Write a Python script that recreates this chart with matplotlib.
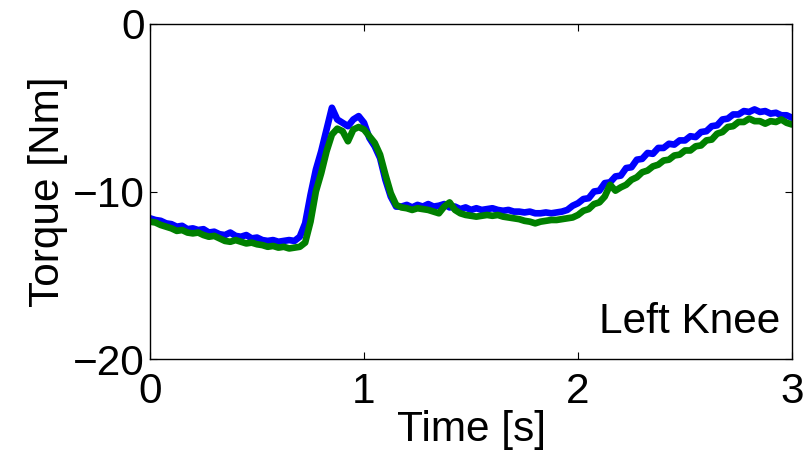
import numpy as np
import matplotlib
matplotlib.use("Agg")
import matplotlib.pyplot as plt

plt.rcParams['font.family'] = ['Liberation Sans', 'DejaVu Sans']

# Sample times [s]
time_s = np.round(np.arange(0, 121) * 0.025, 3)

# Measured torque (blue) [Nm]
torque_blue = [
    -11.6, -11.7, -11.75, -11.9, -11.95, -12.1, -12.05, -12.25, -12.2, -12.3,
    -12.25, -12.45, -12.4, -12.55, -12.6, -12.45, -12.65, -12.7, -12.6, -12.8,
    -12.75, -12.9, -12.95, -12.9, -13.0, -12.95, -12.9, -12.95, -12.7, -11.9,
    -10.2, -8.7, -7.6, -6.3, -5.0, -5.7, -5.9, -6.1, -5.7, -5.5,
    -5.9, -6.8, -7.3, -8.0, -9.3, -10.3, -10.9, -10.9, -10.8, -10.95,
    -10.8, -10.9, -10.75, -10.9, -10.85, -10.75, -10.95, -10.9, -11.05, -10.95,
    -11.1, -11.0, -11.1, -11.05, -11.0, -11.1, -11.15, -11.1, -11.2, -11.2,
    -11.25, -11.2, -11.3, -11.3, -11.25, -11.3, -11.25, -11.2, -11.1, -10.85,
    -10.7, -10.45, -10.4, -10.0, -9.95, -9.5, -9.45, -9.1, -9.05, -8.6,
    -8.55, -8.1, -8.05, -7.7, -7.75, -7.4, -7.4, -7.15, -7.2, -6.95,
    -6.95, -6.7, -6.75, -6.45, -6.4, -6.1, -6.05, -5.7, -5.65, -5.4,
    -5.4, -5.2, -5.25, -5.1, -5.25, -5.2, -5.35, -5.3, -5.45, -5.45,
    -5.6,
]

# Estimated torque (green) [Nm]
torque_green = [
    -11.8, -11.85, -12.0, -12.1, -12.2, -12.35, -12.3, -12.45, -12.5, -12.45,
    -12.6, -12.7, -12.65, -12.8, -12.95, -13.0, -12.9, -13.0, -13.1, -13.05,
    -13.15, -13.2, -13.3, -13.25, -13.35, -13.3, -13.4, -13.35, -13.3, -13.05,
    -11.8, -10.0, -8.9, -7.6, -6.6, -6.25, -6.4, -7.0, -6.3, -6.15,
    -6.3, -6.7, -7.1, -7.8, -9.0, -10.1, -10.8, -10.95, -11.0, -11.1,
    -11.0, -11.05, -11.1, -11.2, -11.3, -10.9, -10.65, -11.1, -11.3, -11.4,
    -11.45, -11.5, -11.45, -11.4, -11.45, -11.4, -11.5, -11.55, -11.6, -11.65,
    -11.75, -11.8, -11.9, -11.8, -11.75, -11.7, -11.7, -11.65, -11.6, -11.55,
    -11.4, -11.15, -11.05, -10.75, -10.65, -10.3, -9.6, -9.95, -9.75, -9.6,
    -9.3, -9.15, -8.85, -8.75, -8.5, -8.4, -8.15, -8.1, -7.85, -7.8,
    -7.55, -7.55, -7.3, -7.25, -6.95, -6.9, -6.55, -6.45, -6.15, -6.1,
    -5.85, -5.85, -5.65, -5.8, -5.8, -5.95, -5.8, -5.85, -5.7, -5.9,
    -6.0,
]

x_ticks = [0, 1, 2, 3]
y_ticks = [-20, -10, 0]

FS = 30.5

fig = plt.figure(figsize=(8.07, 4.57), dpi=100)
ax = fig.add_axes([0.1859, 0.2144, 0.7955, 0.7331])

ax.plot(time_s, torque_blue, color=(0, 0, 1), lw=4.8, solid_joinstyle='round',
        solid_capstyle='round')
ax.plot(time_s, torque_green, color=(0, 0.5, 0), lw=4.8, solid_joinstyle='round',
        solid_capstyle='round')

ax.set_xlim(0, 3)
ax.set_ylim(-20, 0)
ax.set_xticks(x_ticks)
ax.set_yticks(y_ticks)
ax.tick_params(direction='in', top=True, right=True, length=5, width=0.8,
               labelsize=FS)
ax.tick_params(axis='x', pad=9)
ax.tick_params(axis='y', pad=4)
for s in ax.spines.values():
    s.set_linewidth(1.0)

ax.set_xlabel('Time [s]', fontsize=FS, labelpad=-1)
ax.set_ylabel('Torque [Nm]', fontsize=FS, labelpad=3)
ax.text(0.981, 0.11, 'Left Knee', transform=ax.transAxes, ha='right',
        va='center', fontsize=FS)

fig.savefig('out.png', dpi=100)
